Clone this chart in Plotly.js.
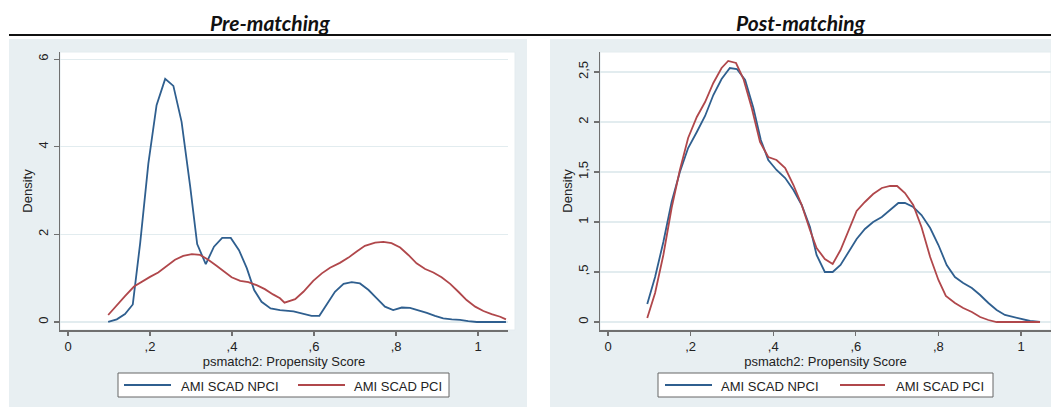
<!DOCTYPE html>
<html>
<head>
<meta charset="utf-8">
<script src="https://cdn.plot.ly/plotly-3.0.1.min.js"></script>
<style>
html,body{margin:0;padding:0;background:#fff;}
#chart{width:1051px;height:407px;}
</style>
</head>
<body>
<div id="chart"></div>
<script>
// ---- Data ----
const panelTitles = ["Pre-matching", "Post-matching"];
const seriesNames = ["AMI SCAD NPCI", "AMI SCAD PCI"];
const xAxisTitle = "psmatch2: Propensity Score";
const yAxisTitle = "Density";

const xTickVals = [0, 0.2, 0.4, 0.6, 0.8, 1];
const xTickText = ["0", ",2", ",4", ",6", ",8", "1"];
const preYTickVals = [0, 2, 4, 6];
const preYTickText = ["0", "2", "4", "6"];
const postYTickVals = [0, 0.5, 1, 1.5, 2, 2.5];
const postYTickText = ["0", ",5", "1", "1,5", "2", "2,5"];

// Pre-matching, AMI SCAD NPCI
const preNpciX = [0.098,0.119,0.139,0.158,0.176,0.196,0.216,0.237,0.257,0.277,0.298,0.315,0.336,0.356,0.376,0.397,0.417,0.436,0.454,0.472,0.494,0.517,0.55,0.574,0.594,0.613,0.631,0.651,0.672,0.692,0.712,0.733,0.753,0.773,0.793,0.814,0.834,0.854,0.875,0.895,0.915,0.936,0.956,0.976,0.997,1.021,1.045,1.068];
const preNpciY = [0.0,0.06,0.18,0.40,1.8,3.62,4.95,5.55,5.39,4.57,3.09,1.78,1.32,1.72,1.92,1.92,1.64,1.23,0.73,0.46,0.31,0.27,0.24,0.18,0.14,0.14,0.39,0.69,0.87,0.91,0.88,0.73,0.54,0.35,0.27,0.33,0.32,0.27,0.21,0.14,0.08,0.06,0.05,0.02,0.0,0.0,0.0,0.0];

// Pre-matching, AMI SCAD PCI
const prePciX = [0.098,0.119,0.139,0.161,0.18,0.2,0.22,0.241,0.261,0.281,0.302,0.322,0.342,0.363,0.383,0.399,0.42,0.44,0.46,0.48,0.5,0.517,0.528,0.554,0.574,0.598,0.619,0.639,0.663,0.684,0.704,0.724,0.749,0.769,0.789,0.81,0.83,0.85,0.871,0.891,0.911,0.932,0.952,0.972,0.993,1.013,1.033,1.054,1.068];
const prePciY = [0.16,0.39,0.59,0.81,0.92,1.03,1.13,1.28,1.42,1.51,1.55,1.53,1.42,1.28,1.13,1.02,0.94,0.91,0.84,0.75,0.63,0.54,0.44,0.52,0.69,0.94,1.11,1.24,1.35,1.47,1.61,1.74,1.81,1.83,1.80,1.70,1.53,1.34,1.21,1.13,1.02,0.87,0.69,0.50,0.35,0.25,0.18,0.12,0.06];

// Post-matching, AMI SCAD NPCI
const postNpciX = [0.095,0.114,0.134,0.154,0.174,0.194,0.215,0.235,0.255,0.275,0.295,0.312,0.332,0.352,0.37,0.388,0.408,0.429,0.449,0.469,0.489,0.505,0.525,0.544,0.563,0.582,0.602,0.622,0.642,0.663,0.683,0.703,0.719,0.739,0.759,0.78,0.8,0.82,0.84,0.86,0.881,0.901,0.921,0.941,0.961,0.981,1.002,1.022,1.046];
const postNpciY = [0.18,0.45,0.80,1.20,1.50,1.74,1.90,2.06,2.27,2.43,2.54,2.53,2.42,2.14,1.82,1.62,1.52,1.44,1.32,1.17,0.95,0.67,0.50,0.50,0.57,0.70,0.83,0.93,1.00,1.05,1.12,1.19,1.19,1.15,1.07,0.94,0.77,0.57,0.45,0.39,0.34,0.27,0.19,0.12,0.07,0.05,0.03,0.01,0.0];

// Post-matching, AMI SCAD PCI
const postPciX = [0.095,0.114,0.134,0.154,0.174,0.194,0.215,0.235,0.255,0.275,0.291,0.31,0.328,0.348,0.368,0.388,0.408,0.429,0.449,0.469,0.489,0.505,0.525,0.544,0.563,0.582,0.602,0.622,0.642,0.663,0.683,0.70,0.719,0.739,0.759,0.78,0.80,0.818,0.84,0.86,0.881,0.901,0.921,0.941,0.965,1.0,1.046];
const postPciY = [0.04,0.29,0.67,1.14,1.52,1.84,2.05,2.20,2.39,2.54,2.61,2.59,2.43,2.14,1.80,1.65,1.62,1.54,1.37,1.17,0.92,0.74,0.63,0.58,0.72,0.92,1.11,1.20,1.28,1.34,1.36,1.36,1.29,1.17,0.95,0.65,0.42,0.26,0.19,0.14,0.10,0.05,0.02,0.0,0.0,0.0,0.0];

// ---- Styling ----
const W = 1051, H = 407;
const BLUE = "#2f5f8f", RED = "#b0474b";
const BG = "#e8eff2", GRID = "#e2ecef", AXIS = "#707070";
const FONT = "Liberation Sans, Arial, sans-serif";
const px = v => v / W;
const py = v => 1 - v / H;

function line(x, y, name, color, xa, ya) {
  return {x: x, y: y, name: name, type: "scatter", mode: "lines",
          line: {color: color, width: 1.8}, xaxis: xa, yaxis: ya,
          showlegend: false, hoverinfo: "x+y"};
}

const data = [
  line(preNpciX, preNpciY, seriesNames[0], BLUE, "x", "y"),
  line(prePciX, prePciY, seriesNames[1], RED, "x", "y"),
  line(postNpciX, postNpciY, seriesNames[0], BLUE, "x2", "y2"),
  line(postPciX, postPciY, seriesNames[1], RED, "x2", "y2")
];

const tickFont = {family: FONT, size: 13, color: "#222"};
function xAxis(domain, range, anchor) {
  return {domain: domain, range: range, anchor: anchor,
          tickvals: xTickVals, ticktext: xTickText,
          ticks: "outside", ticklen: 4, tickwidth: 1.2, tickcolor: AXIS,
          showline: true, linecolor: AXIS, linewidth: 1.5,
          showgrid: false, zeroline: false, tickfont: tickFont,
          title: {text: xAxisTitle, font: {family: FONT, size: 13, color: "#222"}, standoff: 0}};
}
function yAxis(domain, range, anchor, tv, tt) {
  return {domain: domain, range: range, anchor: anchor,
          tickvals: tv, ticktext: tt, tickangle: -90,
          ticks: "outside", ticklen: 5, tickwidth: 1.2, tickcolor: AXIS,
          showline: true, linecolor: AXIS, linewidth: 1.5,
          showgrid: true, gridcolor: GRID, gridwidth: 1.2, zeroline: false,
          tickfont: tickFont,
          title: {text: yAxisTitle, font: {family: FONT, size: 13, color: "#222"}, standoff: 0}};
}

const yDom = [py(330), py(52)];
const layout = {
  width: W, height: H,
  margin: {l: 0, r: 0, t: 0, b: 0, pad: 0},
  paper_bgcolor: "#ffffff", plot_bgcolor: "#ffffff",
  showlegend: false,
  xaxis: xAxis([px(60), px(508)], [-0.0195, 1.073], "y"),
  yaxis: yAxis(yDom, [-0.183, 6.164], "x", preYTickVals, preYTickText),
  xaxis2: xAxis([px(600), 1], [-0.0194, 1.0726], "y2"),
  yaxis2: yAxis(yDom, [-0.08, 2.70], "x2", postYTickVals, postYTickText),
  shapes: [
    {type: "rect", xref: "paper", yref: "paper", x0: px(9), x1: px(527), y0: 0, y1: py(39),
     fillcolor: BG, line: {width: 0}, layer: "below"},
    {type: "rect", xref: "paper", yref: "paper", x0: px(550), x1: 1, y0: 0, y1: py(39),
     fillcolor: BG, line: {width: 0}, layer: "below"},
    // white plot regions
    {type: "rect", xref: "paper", yref: "paper", x0: px(60), x1: px(515), y0: py(330), y1: py(52),
     fillcolor: "#ffffff", line: {color: "#e4ecef", width: 1}, layer: "below"},
    {type: "rect", xref: "paper", yref: "paper", x0: px(600), x1: 1, y0: py(330), y1: py(52),
     fillcolor: "#ffffff", line: {color: "#e4ecef", width: 1}, layer: "below"},
    {type: "line", xref: "paper", yref: "paper", x0: px(9), x1: 1, y0: py(35), y1: py(35),
     line: {color: "#111", width: 2}},
    // legend boxes
    {type: "rect", xref: "paper", yref: "paper", x0: px(118), x1: px(449), y0: py(397), y1: py(373),
     fillcolor: "#fff", line: {color: "#666", width: 1}},
    {type: "line", xref: "paper", yref: "paper", x0: px(124), x1: px(171), y0: py(385), y1: py(385),
     line: {color: BLUE, width: 1.8}},
    {type: "line", xref: "paper", yref: "paper", x0: px(298), x1: px(345), y0: py(385), y1: py(385),
     line: {color: RED, width: 1.8}},
    {type: "rect", xref: "paper", yref: "paper", x0: px(658), x1: px(993), y0: py(397), y1: py(373),
     fillcolor: "#fff", line: {color: "#666", width: 1}},
    {type: "line", xref: "paper", yref: "paper", x0: px(665), x1: px(712), y0: py(385), y1: py(385),
     line: {color: BLUE, width: 1.8}},
    {type: "line", xref: "paper", yref: "paper", x0: px(840), x1: px(885), y0: py(385), y1: py(385),
     line: {color: RED, width: 1.8}}
  ],
  annotations: [
    {text: "<b><i>" + panelTitles[0] + "</i></b>", xref: "paper", yref: "paper", x: px(270), y: py(22),
     xanchor: "center", yanchor: "middle", showarrow: false, font: {family: "Lato, Open Sans, sans-serif", size: 21, color: "#111"}},
    {text: "<b><i>" + panelTitles[1] + "</i></b>", xref: "paper", yref: "paper", x: px(801), y: py(22),
     xanchor: "center", yanchor: "middle", showarrow: false, font: {family: "Lato, Open Sans, sans-serif", size: 21, color: "#111"}},
    {text: seriesNames[0], xref: "paper", yref: "paper", x: px(179), y: py(386), xanchor: "left", yanchor: "middle",
     showarrow: false, font: {family: FONT, size: 13, color: "#222"}},
    {text: seriesNames[1], xref: "paper", yref: "paper", x: px(352), y: py(386), xanchor: "left", yanchor: "middle",
     showarrow: false, font: {family: FONT, size: 13, color: "#222"}},
    {text: seriesNames[0], xref: "paper", yref: "paper", x: px(719), y: py(386), xanchor: "left", yanchor: "middle",
     showarrow: false, font: {family: FONT, size: 13, color: "#222"}},
    {text: seriesNames[1], xref: "paper", yref: "paper", x: px(894), y: py(386), xanchor: "left", yanchor: "middle",
     showarrow: false, font: {family: FONT, size: 13, color: "#222"}}
  ]
};

Plotly.newPlot("chart", data, layout, {staticPlot: true, displayModeBar: false});
</script>
</body>
</html>
